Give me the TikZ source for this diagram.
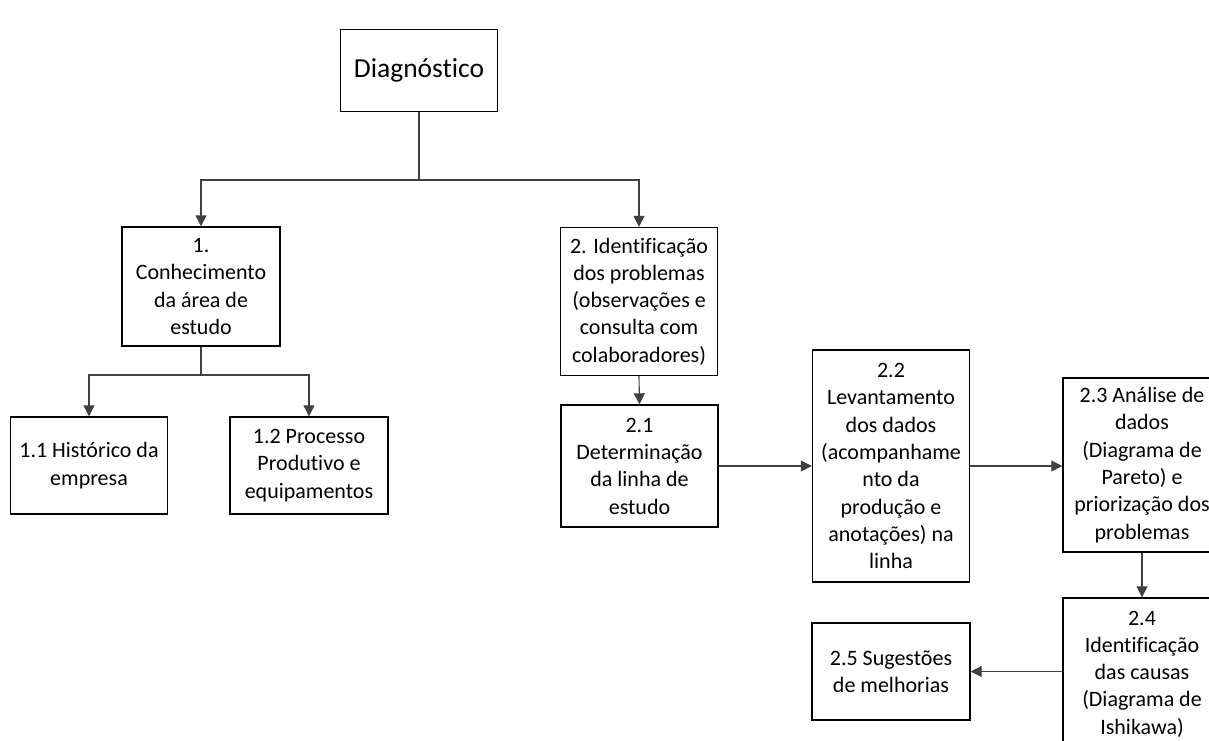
\documentclass[tikz,border=0pt]{standalone}
\usepackage{fontspec}
\setmainfont{Carlito}[Ligatures={NoCommon}]
\usetikzlibrary{arrows.meta}
\begin{document}
\begin{tikzpicture}[x=1pt,y=-1pt,
  box/.style={draw=black,line width=1.4pt,inner sep=0pt,align=center,
    font=\fontsize{22}{27.3}\selectfont,text=black},
  conn/.style={draw=black!75,line width=1.1pt},
  arr/.style={conn,-{Triangle[length=11pt,width=11pt]}}]
\useasboundingbox (0,0) rectangle (1209,740);
\clip (0,0) rectangle (1209,740);
\fill[white] (0,0) rectangle (1209,740);
\node[box,minimum width=157pt,minimum height=82pt,font=\fontsize{27.5}{33}\selectfont] (diag) at (419,70.5) {Diagnóstico};
\node[box,minimum width=158pt,minimum height=119pt] (n1) at (201,286.5) {1.\\Conhecimento\\da área de\\estudo};
\node[box,minimum width=157pt,minimum height=148pt] (n2) at (639,301.5) {2. Identificação\\dos problemas\\(observações e\\consulta com\\colaboradores)};
\node[box,minimum width=157pt,minimum height=97pt] (n11) at (89,465.5) {1.1 Histórico da\\empresa};
\node[box,minimum width=158pt,minimum height=97pt] (n12) at (309,465.5) {1.2 Processo\\Produtivo e\\equipamentos};
\node[box,minimum width=157pt,minimum height=122pt] (n21) at (639.5,466) {2.1\\Determinação\\da linha de\\estudo};
\node[box,minimum width=157pt,minimum height=232pt] (n22) at (891,466) {2.2\\Levantamento\\dos dados\\(acompanhame\\nto da\\produção e\\anotações) na\\linha};
\node[box,minimum width=158pt,minimum height=174pt] (n23) at (1142,465) {2.3 Análise de\\dados\\(Diagrama de\\Pareto) e\\priorização dos\\problemas};
\node[box,minimum width=158pt,minimum height=152pt] (n24) at (1142,674) {2.4\\Identificação\\das causas\\(Diagrama de\\Ishikawa)};
\node[box,minimum width=158pt,minimum height=97pt] (n25) at (891,671.5) {2.5 Sugestões\\de melhorias};
\coordinate (j0) at (419,180);
\coordinate (j1) at (201,375);
\draw[conn] (diag.south) -- (j0);
\draw[arr] (j0) -| (n1.north);
\draw[arr] (j0) -| (n2.north);
\draw[conn] (n1.south) -- (j1);
\draw[arr] (j1) -| (n11.north);
\draw[arr] (j1) -| (n12.north);
\draw[arr] (n2.south) -- (n21.north);
\draw[arr] (n21.east) -- (n22.west |- n21.east);
\draw[arr] (n22.east) -- (n23.west |- n22.east);
\draw[arr] (n23.south) -- (n24.north);
\draw[arr] (n24.west |- n25.east) -- (n25.east);
\end{tikzpicture}
\end{document}
